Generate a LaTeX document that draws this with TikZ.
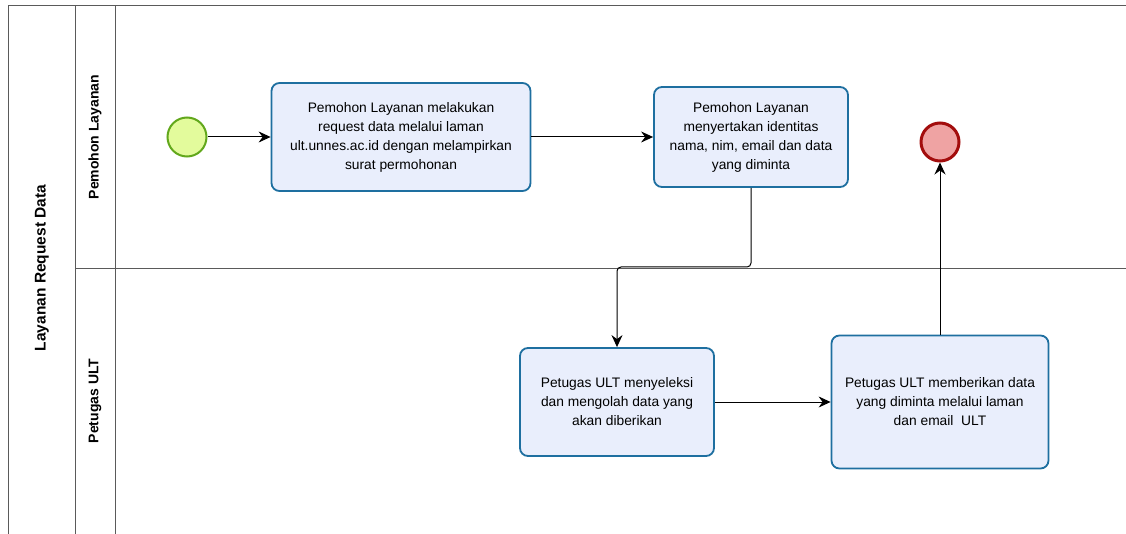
\documentclass[tikz,border=0pt]{standalone}
\usepackage{fontspec}
\setmainfont{Liberation Sans}
\usepackage{xcolor}
\usepackage{tikz}
\usetikzlibrary{arrows.meta, positioning}

\definecolor{laneline}{HTML}{5A5A5A}
\definecolor{taskfill}{HTML}{E9EEFC}
\definecolor{taskdraw}{HTML}{1E6FA0}
\definecolor{startfill}{HTML}{E3FB9C}
\definecolor{startdraw}{HTML}{62A81C}
\definecolor{endfill}{HTML}{EFA3A3}
\definecolor{enddraw}{HTML}{A30D0D}

\begin{document}
\begin{tikzpicture}[x=1pt, y=-1pt,
    task/.style={draw=taskdraw, fill=taskfill, line width=1.8pt, rounded corners=8pt,
                 align=center, font=\fontsize{13.8}{19}\selectfont, inner sep=0pt},
    startev/.style={circle, draw=startdraw, fill=startfill, line width=2pt, minimum size=39pt, inner sep=0pt},
    endev/.style={circle, draw=enddraw, fill=endfill, line width=3pt, minimum size=38pt, inner sep=0pt},
    flow/.style={-{Stealth[length=12pt, width=11pt, inset=4pt]}, line width=1pt},
    lanetext/.style={rotate=90, font=\fontsize{14}{16}\selectfont\bfseries}]
    \useasboundingbox (0,0) rectangle (1126,534);

    % pool and lanes
    \draw[laneline, line width=1pt] (8,534) -- (8,6) -- (1126,6);
    \draw[laneline, line width=1pt] (75,6) -- (75,534);
    \draw[laneline, line width=1pt] (115,6) -- (115,534);
    \draw[laneline, line width=1pt] (75,269) -- (1126,269);
    \node[lanetext, font=\fontsize{15.5}{17}\selectfont\bfseries] (pool) at (42,268) {Layanan Request Data};
    \node[lanetext] (lane1) at (95,137) {Pemohon Layanan};
    \node[lanetext] (lane2) at (95,401) {Petugas ULT};

    % events and tasks
    \node[startev] (start) at (187,137) {};
    \node[task, minimum width=259pt, minimum height=108pt] (request) at (401,137)
        {Pemohon Layanan melakukan\\request data melalui laman\\ult.unnes.ac.id dengan melampirkan\\surat permohonan};
    \node[task, minimum width=194pt, minimum height=100pt] (identitas) at (751,137)
        {Pemohon Layanan\\menyertakan identitas\\nama, nim, email dan data\\yang diminta};
    \node[endev] (finish) at (940,142) {};
    \node[task, minimum width=194pt, minimum height=108pt] (seleksi) at (617,402)
        {Petugas ULT menyeleksi\\dan mengolah data yang\\akan diberikan};
    \node[task, minimum width=217pt, minimum height=133pt] (berikan) at (940,402)
        {Petugas ULT memberikan data\\yang diminta melalui laman\\dan email~~ULT};

    % sequence flows
    \coordinate (turn) at (0,267);
    \draw[flow] (start) -- (request);
    \draw[flow] (request) -- (identitas);
    \draw[flow, rounded corners=4pt] (identitas.south) -- (identitas.south |- turn) -| (seleksi.north);
    \draw[flow] (seleksi) -- (berikan);
    \draw[flow] (berikan) -- (finish);
\end{tikzpicture}
\end{document}
